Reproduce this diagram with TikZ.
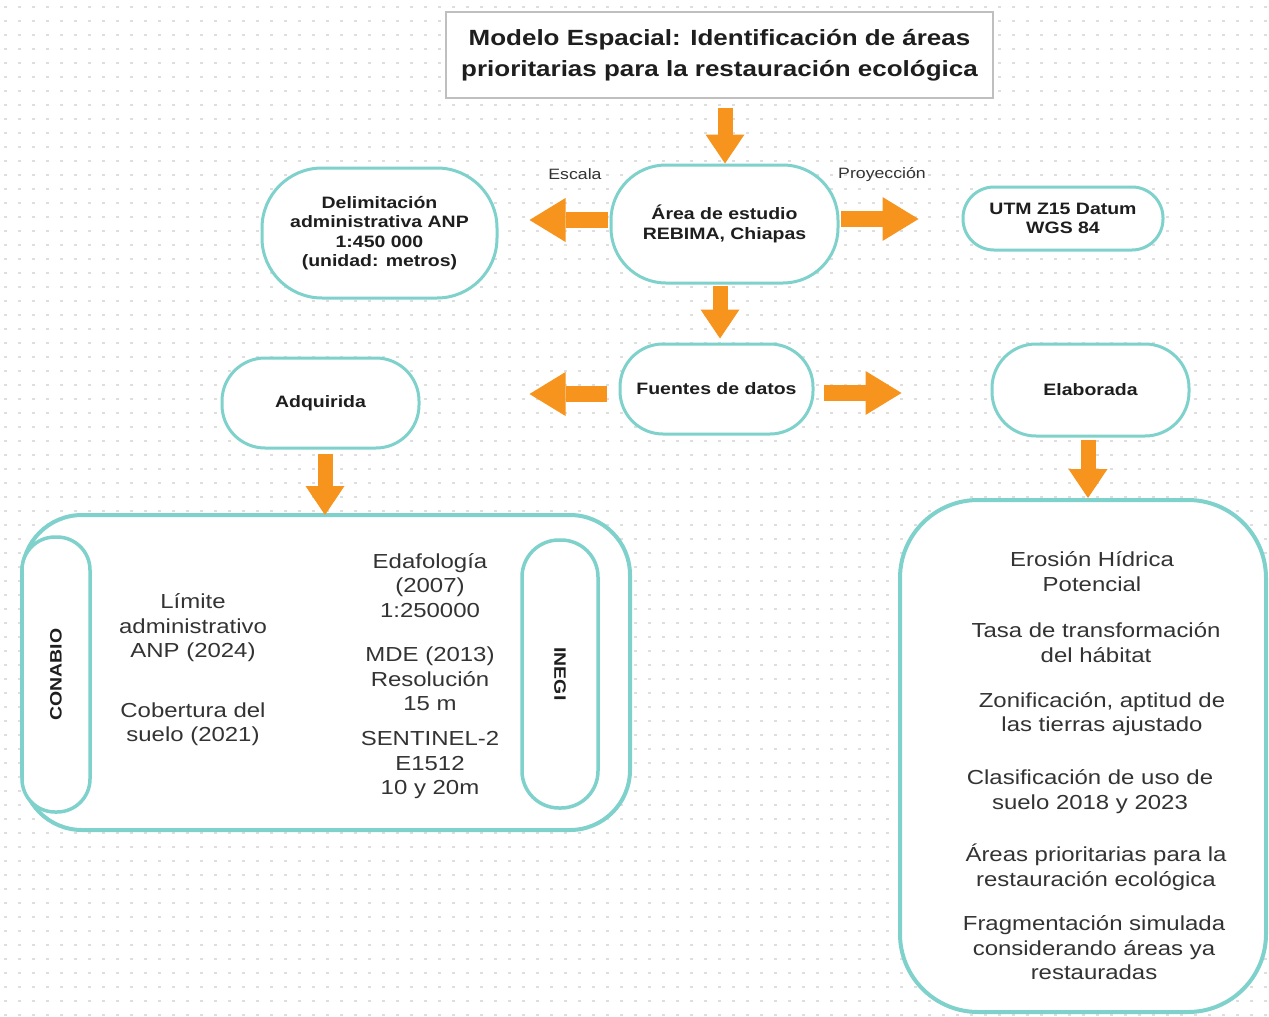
\documentclass[tikz,border=0pt]{standalone}
\usepackage{fontspec}
\setmainfont{Liberation Sans}[FakeStretch=1.18]
\usetikzlibrary{arrows.meta}
\definecolor{teal1}{RGB}{127,209,204}
\definecolor{orange1}{RGB}{247,148,30}
\definecolor{txt}{RGB}{30,30,30}
\definecolor{txt2}{RGB}{51,51,51}
\definecolor{dotc}{RGB}{222,222,222}
\tikzset{
  pill/.style={draw=teal1, line width=3pt, fill=white, inner sep=0pt, align=center, text=txt,
    font=\fontsize{16.5}{19.5}\selectfont\bfseries},
  bigbox/.style={draw=teal1, line width=4pt, fill=white, inner sep=0pt},
  body/.style={inner sep=0pt, align=center, text=txt2, font=\fontsize{20.3}{24.5}\selectfont},
  lbl/.style={inner sep=0pt, text=txt2, font=\fontsize{15}{18}\selectfont},
  varrow/.style={draw=orange1, line width=15pt, -{Triangle[length=29pt,width=39pt,line width=0pt]}},
  harrow/.style={draw=orange1, line width=16pt, -{Triangle[length=36pt,width=44pt,line width=0pt]}},
}
\begin{document}
\begin{tikzpicture}[x=1pt,y=-1pt]
\useasboundingbox (0,0) rectangle (1269,1017);
\fill[white] (0,0) rectangle (1269,1017);
% dotted background
\foreach \yy in {7,21,...,1017}
  \draw[dotc, line width=2.5pt, dash pattern=on 2.5pt off 11.5pt] (4,\yy) -- (1269,\yy);

% title
\node[draw=black!25, line width=1.2pt, fill=white, minimum width=547pt, minimum height=86pt,
      inner sep=0pt, align=center, text=txt, font=\fontsize{22}{31}\selectfont\bfseries]
  (title) at (719.5,55) {Modelo Espacial: Identificación de áreas\\prioritarias para la restauración ecológica};

% nodes
\node[pill, minimum width=227pt, minimum height=118pt, rounded corners=55pt] (area) at (724.5,224)
  {Área de estudio\\REBIMA, Chiapas};
\node[pill, minimum width=235pt, minimum height=130pt, rounded corners=60pt] (deli) at (379.5,233)
  {Delimitación\\administrativa ANP\\1:450 000\\(unidad: metros)};
\node[pill, minimum width=200pt, minimum height=63pt, rounded corners=31pt] (utm) at (1063,218.5)
  {UTM Z15 Datum\\WGS 84};
\node[pill, minimum width=193pt, minimum height=90pt, rounded corners=43pt] (fuentes) at (716.5,389)
  {Fuentes de datos};
\node[pill, minimum width=197pt, minimum height=90pt, rounded corners=43pt] (adq) at (320.5,403)
  {Adquirida};
\node[pill, minimum width=197pt, minimum height=92pt, rounded corners=44pt] (elab) at (1090.5,390)
  {Elaborada};

\node[lbl] (escala) at (575,174) {Escala};
\node[lbl] (proy) at (882,175) {Proyección};

% big boxes
\node[bigbox, minimum width=608pt, minimum height=315pt, rounded corners=60pt] (leftbox) at (326,672.5) {};
\node[pill, line width=3.5pt, minimum width=275pt, minimum height=68pt, rounded corners=33pt, rotate=90] (conabio) at (56,674.5) {CONABIO};
\node[pill, line width=3.5pt, minimum width=268pt, minimum height=76pt, rounded corners=37pt, rotate=-90] (inegi) at (560,674) {INEGI};

\node[body] (limite) at (193,628) {Límite\\administrativo\\ANP (2024)};
\node[body] (cobertura) at (193,724) {Cobertura del\\suelo (2021)};
\node[body] (edaf) at (430,585.5) {Edafología\\(2007)\\1:250000};
\node[body] (mde) at (430,679) {MDE (2013)\\Resolución\\15 m};
\node[body] (sent) at (430,765.5) {SENTINEL-2\\E1512\\10 y 20m};

\node[bigbox, minimum width=366pt, minimum height=512pt, rounded corners=78pt] (rightbox) at (1083,756) {};
\node[body] (erosion) at (1092,571.5) {Erosión Hídrica\\Potencial};
\node[body] (tasa) at (1096,642.5) {Tasa de transformación\\del hábitat};
\node[body] (zonif) at (1102,714) {Zonificación, aptitud de\\las tierras ajustado};
\node[body] (clasif) at (1090,791.5) {Clasificación de uso de\\suelo 2018 y 2023};
\node[body] (areas) at (1096,867.5) {Áreas prioritarias para la\\restauración ecológica};
\node[body] (frag) at (1094,948) {Fragmentación simulada\\considerando áreas ya\\restauradas};

% arrows
\draw[varrow, shorten <=9pt, shorten >=0pt] ([xshift=5.5pt]title.south) -- ([xshift=0.5pt]area.north);
\draw[varrow, shorten <=1pt, shorten >=4pt] ([xshift=-4.5pt]area.south) -- ([xshift=3.5pt]fuentes.north);
\draw[harrow, shorten <=2pt, shorten >=31pt] ([yshift=4pt]area.west) -- ([yshift=4pt]area.west -| deli.east);
\draw[harrow, shorten <=1pt, shorten >=43pt] ([yshift=5pt]area.east) -- ([yshift=5pt]area.east -| utm.west);
\draw[harrow, shorten <=12pt, shorten >=109pt] ([yshift=-5pt]fuentes.west) -- ([yshift=-5pt]fuentes.west -| adq.east);
\draw[harrow, shorten <=9pt, shorten >=89pt] ([yshift=-4pt]fuentes.east) -- ([yshift=-4pt]fuentes.east -| elab.west);
\draw[varrow, shorten <=4pt, shorten >=-2pt] ([xshift=4.5pt]adq.south) -- ([xshift=-1pt]leftbox.north);
\draw[varrow, shorten <=2pt, shorten >=0pt] ([xshift=-2.5pt]elab.south) -- ([xshift=5pt]rightbox.north);
\end{tikzpicture}
\end{document}
